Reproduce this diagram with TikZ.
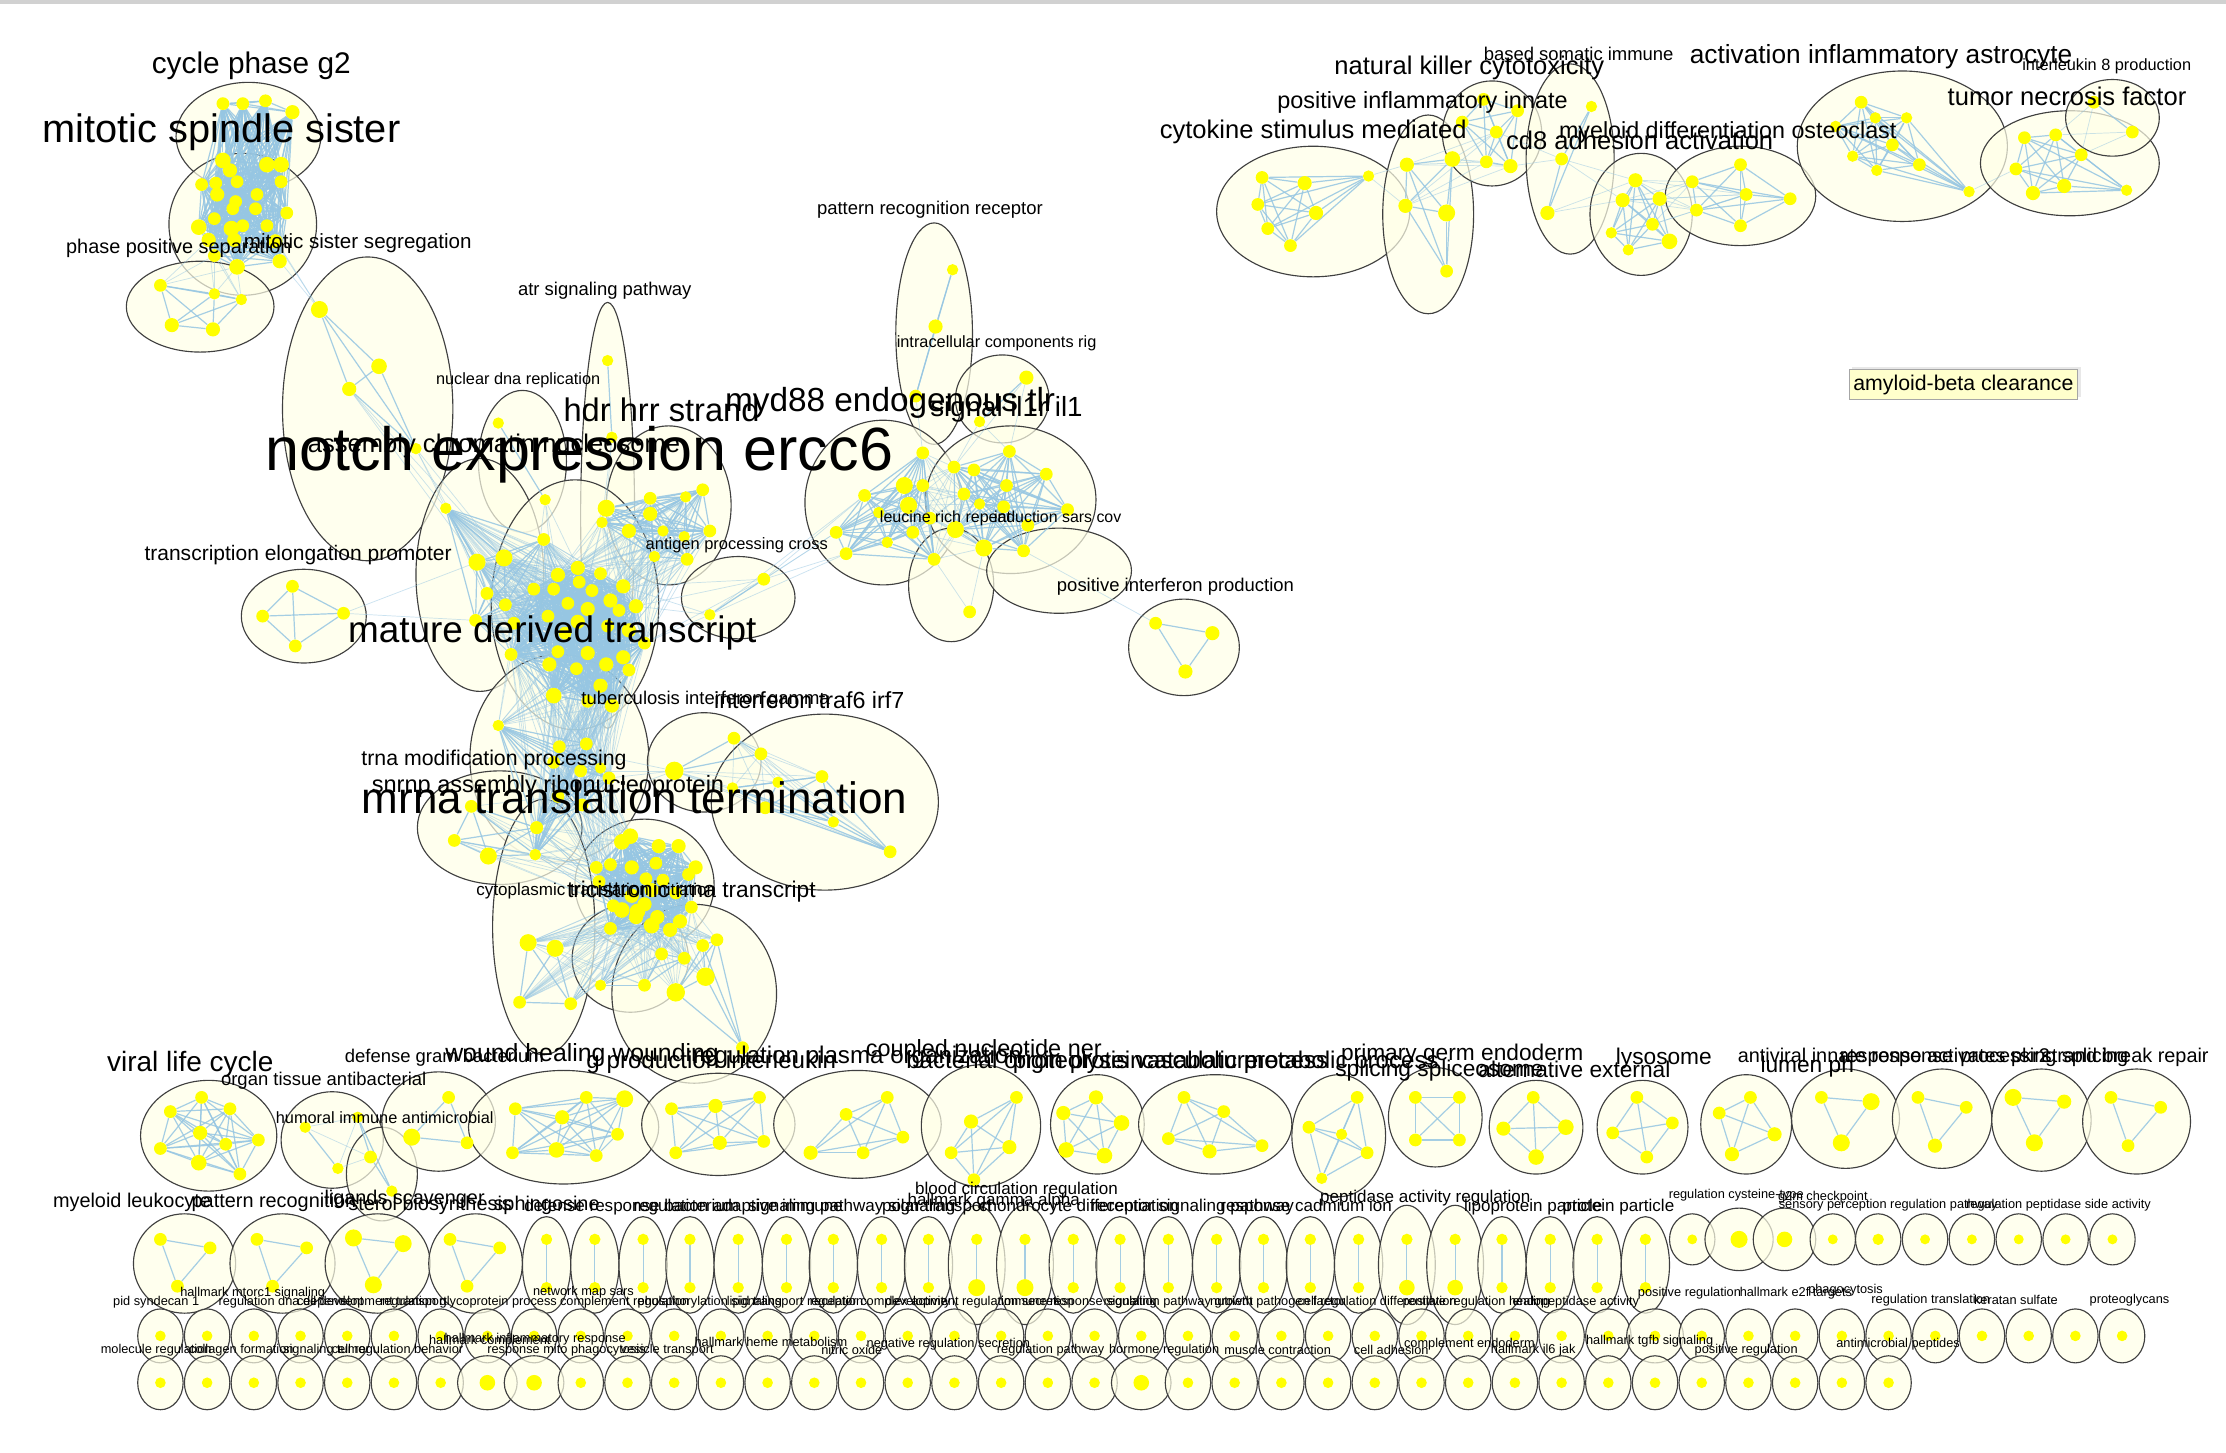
\documentclass[tikz,border=0pt]{standalone}
\usepackage{fontspec}
\setmainfont{Liberation Sans}
\usetikzlibrary{shapes.geometric,shadows}
\definecolor{edgec}{RGB}{150,198,226}
\definecolor{ivoryc}{RGB}{255,255,232}
\definecolor{dotc}{RGB}{255,255,0}
\definecolor{tipc}{RGB}{255,255,204}
\pgfdeclarelayer{paper}\pgfdeclarelayer{bg}\pgfdeclarelayer{edges}\pgfdeclarelayer{fg}
\pgfsetlayers{paper,bg,edges,main,fg}
\tikzset{
  ring/.style={ellipse,draw=black!75,line width=0.8pt,fill=ivoryc,fill opacity=0.7,inner sep=0pt},
  dot/.style={circle,fill=dotc,draw=none,inner sep=0pt},
  edge/.style={draw=edgec,line width=0.85pt,opacity=0.85},
  fedge/.style={draw=edgec,line width=0.5pt,opacity=0.5},
  lab/.style={font=\fontsize{#1}{#1}\selectfont,inner sep=0pt,text=black},
}
\newcommand\Ering[5]{\begin{pgfonlayer}{bg}\node[ring,minimum width=#4*2pt,minimum height=#5*2pt] (#1) at (#2,#3) {};\end{pgfonlayer}}
\newcommand\Dots[2]{\foreach[count=\i] \x/\y/\s in {#2}{\node[dot,minimum size=\s pt] (#1-\i) at (\x,\y) {};}}
\newcommand\Kall[2]{\begin{pgfonlayer}{edges}\foreach \i in {1,...,#2}{\foreach \j in {1,...,#2}{\ifnum\i<\j\relax\draw[edge] (#1-\i) -- (#1-\j);\fi}}\end{pgfonlayer}}
\newcommand\Clu[3]{\Dots{#1}{#3}\Kall{#1}{#2}}
\newcommand\Bip[4]{\begin{pgfonlayer}{edges}\foreach \i in {#2}{\foreach \j in {#4}{\draw[fedge] (#1-\i) -- (#3-\j);}}\end{pgfonlayer}}
\begin{document}
\begin{tikzpicture}[x=1pt,y=-1pt]
\useasboundingbox (0,0) rectangle (1568,1023);
\begin{pgfonlayer}{paper}
\fill[white] (0,0) rectangle (1568,1023);
\fill[black!18] (0,0) rectangle (1568,2.5);
\end{pgfonlayer}
% ---------------- ellipses ----------------
\Ering{e1}{175}{96}{51}{38}
\Ering{e2}{171}{158}{52}{50}
\Ering{e3}{141}{216}{52}{32}
\Ering{e4}{259}{288}{60}{107}
\Ering{e5}{428}{363}{19}{150}
\Ering{e6}{368}{325}{31}{50}
\Ering{e7}{471}{356}{44}{56}
\Ering{e8}{338}{405}{45}{82}
\Ering{e9}{405}{426}{59}{88}
\Ering{e10}{214}{434}{44}{33}
\Ering{e11}{520}{421}{40}{29}
\Ering{e12}{394}{534}{63}{73}
\Ering{e13}{496}{537}{40}{35}
\Ering{e14}{581}{565}{80}{62}
\Ering{e15}{352}{583}{58}{40}
\Ering{e16}{454}{623}{49}{46}
\Ering{e17}{383}{653}{36}{90}
\Ering{e18}{444}{675}{41}{38}
\Ering{e19}{489}{700}{58}{63}
\Ering{e20}{658}{235}{27}{78}
\Ering{e21}{706}{281}{33}{31}
\Ering{e22}{622}{354}{55}{58}
\Ering{e23}{712}{352}{60}{52}
\Ering{e24}{670}{412}{30}{40}
\Ering{e25}{746}{402}{51}{30}
\Ering{e26}{834}{456}{39}{34}
\Ering{f1}{925}{149}{68}{46}
\Ering{f2}{1006}{151}{32}{70}
\Ering{f3}{1051}{94}{35}{37}
\Ering{f4}{1106}{112}{31}{67}
\Ering{f5}{1156}{151}{36}{43}
\Ering{f6}{1226}{138}{53}{35}
\Ering{f7}{1340}{103}{74}{53}
\Ering{f8}{1458}{115}{63}{37}
\Ering{f9}{1488}{83}{33}{27}
\Ering{g1}{147}{800}{48}{39}
\Ering{g2}{234}{803}{36}{34}
\Ering{g3}{269}{827}{25}{33}
\Ering{g4}{309}{790}{40}{35}
\Ering{g5}{397}{794}{67}{40}
\Ering{g6}{506}{792}{54}{36}
\Ering{g7}{604}{792}{59}{38}
\Ering{g8}{691}{793}{42}{43}
\Ering{g9}{773}{792}{33}{35}
\Ering{g10}{856}{792}{54}{35}
\Ering{g11}{943}{800}{33}{43}
\Ering{g12}{1011}{787}{33}{35}
\Ering{g13}{1082}{794}{33}{33}
\Ering{g14}{1157}{794}{32}{33}
\Ering{g15}{1230}{792}{32}{35}
\Ering{g16}{1300}{788}{38}{35}
\Ering{g17}{1368}{788}{35}{35}
\Ering{g18}{1438}{789}{35}{36}
\Ering{g19}{1505}{790}{38}{37}
\Ering{h1}{130}{890}{36}{35}
\Ering{h2}{199}{890}{37}{35}
\Ering{h3}{266}{890}{37}{35}
\Ering{h4}{335}{890}{33}{35}
% ---------------- clusters ----------------
\Clu{A}{29}{157/73/9,171/73/9,187/71/9,206/79/10,157/113/11,162/120/10,188/116/11,198/116/11,142/130/9,152/129/9,167/128/9,198/128/9,153/137/10,181/137/9,166/142/9,164/147/9,180/147/9,202/150/9,151/154/9,140/160/11,163/161/11,171/159/9,188/159/9,147/169/10,165/169/10,194/170/10,151/180/9,167/188/11,197/184/10}
\Clu{A3}{5}{113/201/9,151/207/8,170/211/8,121/229/10,150/232/10}
\Clu{A4}{4}{225/218/12,267/258/11,246/274/10,293/316/8}
\Clu{B1}{2}{428/254/8,431/308/8}
\Clu{B2}{2}{351/298/8,384/352/8}
\Clu{B3}{12}{458/351/9,483/350/8,495/345/9,458/362/10,467/374/8,500/374/9,443/374/10,482/378/8,484/394/9,461/392/8,427/358/12,424/368/8}
\Clu{B4}{7}{314/358/8,336/396/12,355/393/12,343/418/9,356/426/9,383/380/9,335/437/9}
\Clu{B5}{32}{407/400/10,423/404/9,393/405/10,408/410/9,439/413/10,390/415/9,417/416/9,376/415/9,430/423/10,400/425/9,414/429/10,448/427/10,436/430/9,386/434/9,407/438/10,428/441/9,398/446/9,443/444/10,362/439/9,454/453/9,414/460/10,393/459/9,439/463/10,360/461/9,387/468/10,427/468/10,406/471/9,443/472/9,423/483/10,390/490/11,414/494/9,431/497/10}
\Clu{B6}{4}{206/413/9,185/434/9,242/432/9,208/455/9}
\Clu{B7}{2}{538/408/9,500/433/8}
\Clu{B8}{11}{351/511/8,394/526/9,413/524/9,409/543/9,429/548/9,423/541/8,390/537/9,378/583/9,377/602/8,410/567/9,393/561/9}
\Clu{B9}{3}{475/543/13,517/520/9,536/531/9}
\Clu{B10}{6}{579/547/9,548/551/8,587/579/8,627/600/9,539/569/9,516/555/8}
\Clu{B11}{5}{332/568/9,320/592/9,344/603/12,378/583/9,377/602/8}
\Clu{B12}{27}{438/593/11,444/589/11,464/596/10,478/596/10,420/611/9,430/609/9,445/611/10,462/608/9,490/611/10,422/621/9,455/619/9,467/620/9,485/616/9,445/631/10,459/627/10,476/629/9,438/641/11,449/642/11,454/637/10,463/646/10,479/649/10,487/639/9,430/654/9,459/652/11,472/655/10,448/646/10,432/638/9}
\Clu{B13}{4}{372/664/12,391/668/12,366/706/9,402/707/9}
\Clu{B14}{4}{454/694/9,423/694/8,466/672/9,482/675/9}
\Clu{B15}{5}{495/666/9,505/662/9,497/688/13,476/699/13,523/738/9}
\Clu{C1}{3}{671/190/8,659/230/10,645/279/9}
\Clu{C2}{2}{723/266/10,690/297/8}
\Clu{C3}{12}{650/319/9,637/342/12,650/342/9,609/349/9,619/361/8,640/356/12,655/365/9,589/375/9,625/382/8,643/375/9,596/390/9,658/394/9}
\Clu{C4}{13}{672/329/9,686/331/9,711/318/9,737/334/9,679/348/9,709/342/9,690/355/8,707/357/9,752/359/9,673/373/12,724/370/9,693/386/12,721/388/9}
\Clu{C5}{1}{683/431/9}
\Clu{C7}{3}{814/439/9,854/446/10,835/473/10}
\Clu{D1}{7}{889/125/9,919/129/10,886/144/9,927/150/10,893/161/9,909/173/9,964/124/8}
\Clu{D2}{5}{991/116/10,1023/112/11,990/145/10,1019/150/12,1019/191/9}
\Clu{D3}{6}{1045/70/9,1069/78/9,1030/86/9,1054/93/9,1047/114/9,1064/117/10}
\Clu{D4}{3}{1121/75/8,1100/112/9,1090/150/10}
\Clu{D5}{7}{1152/127/10,1143/141/10,1169/140/10,1135/164/8,1164/158/9,1176/170/11,1147/176/8}
\Clu{D6}{6}{1192/128/9,1226/116/9,1230/137/9,1195/148/9,1261/140/9,1226/159/9}
\Clu{D7}{9}{1311/72/9,1321/83/8,1343/83/8,1333/102/9,1305/110/8,1322/120/8,1352/116/9,1387/135/8,1293/89/8}
\Clu{D8}{7}{1426/97/9,1448/95/9,1466/109/9,1420/119/9,1454/131/10,1432/136/10,1498/134/8}
\Clu{D9}{2}{1475/72/9,1502/93/9}
\Clu{G1}{9}{142/773/9,120/783/9,162/781/9,141/798/10,182/803/9,113/809/9,159/806/9,140/819/11,169/827/9}
\Clu{G2}{2}{215/794/8,238/823/8}
\Clu{G3}{3}{252/787/8,261/815/9,276/839/8}
\Clu{G4}{3}{316/773/9,290/801/12,329/805/9}
\Clu{G5}{8}{363/781/9,413/773/9,440/774/12,396/787/10,361/812/9,392/810/11,420/814/9,435/799/9}
\Clu{G6}{6}{473/781/9,504/779/10,535/773/9,476/812/9,507/805/10,538/804/9}
\Clu{G7}{5}{596/785/9,625/773/9,636/801/9,571/812/10,608/812/9}
\Clu{G8}{5}{684/790/10,716/773/9,711/808/10,670/812/9,686/831/9}
\Clu{G9}{5}{772/773/10,749/784/10,790/791/11,751/810/11,778/814/11}
\Clu{G10}{5}{834/773/9,862/783/9,823/802/9,852/811/10,889/807/9}
\Clu{G11}{5}{956/773/9,922/794/9,945/799/8,963/812/9,931/830/8}
\Clu{G12}{4}{997/773/9,1028/773/9,997/803/9,1028/803/9}
\Clu{G13}{4}{1080/773/9,1059/795/10,1103/794/11,1082/815/11}
\Clu{G14}{4}{1153/773/9,1136/798/9,1178/791/9,1160/815/9}
\Clu{G15}{4}{1233/773/9,1211/784/9,1250/799/10,1220/813/10}
\Clu{G16}{3}{1283/773/9,1318/776/12,1297/805/12}
\Clu{G17}{3}{1351/773/9,1385/780/9,1363/807/10}
\Clu{G18}{3}{1418/773/12,1454/776/10,1433/805/12}
\Clu{G19}{3}{1487/773/9,1522/780/9,1499/807/9}
\Clu{H1}{3}{113/873/9,148/879/9,125/906/9}
\Clu{H2}{3}{181/873/9,216/879/9,192/906/9}
\Clu{H3}{3}{249/872/12,284/876/12,263/905/12}
\Clu{H4}{3}{317/873/9,352/879/9,329/906/9}
% ---------------- cross edges ----------------
\Bip{A3}{1,2,3}{A}{24,27,28}
\Bip{A4}{1}{A}{26,29,23}
\Bip{A4}{3,4}{B4}{1,2,3}
\Bip{B4}{1,...,7}{B5}{1,...,32}
\Bip{B3}{1,...,12}{B5}{1,3,5,9,12,15,18,20}
\Bip{B2}{2}{B5}{1,3,6,8}
\Bip{B1}{2}{B3}{11,12}
\Bip{B7}{1,2}{B5}{5,12,20}
\Bip{B7}{1,2}{C3}{4,8,11}
\Bip{B5}{18,...,32}{B8}{1,...,11}
\Bip{B8}{1,...,11}{B12}{1,2,5,6,10,17}
\Bip{B9}{1,2,3}{B10}{1,...,6}
\Bip{B9}{1}{B8}{2,4,5,10}
\Bip{B11}{1,...,5}{B12}{5,10,17}
\Bip{B11}{1,4}{B8}{8,9,11}
\Bip{B12}{15,...,27}{B13}{1,2,3,4}
\Bip{B12}{15,...,27}{B14}{1,2,3,4}
\Bip{B12}{19,...,27}{B15}{1,2,3,4}
\Bip{B13}{1,2}{B14}{1,2}
\Bip{B6}{3}{B4}{2,7}
\Bip{C1}{3}{C3}{1}
\Bip{C2}{1,2}{C4}{1,3}
\Bip{C3}{1,2,3,6,7,10,12}{C4}{1,5,7,10,12}
\Bip{C5}{1}{C3}{12}
\Bip{C5}{1}{C4}{12}
\Bip{C4}{13}{C7}{1}
\Bip{D1}{7}{D2}{1,3}
\Bip{D2}{1,2,3}{D3}{5,6,4}
\Bip{D3}{4,6}{D4}{2}
\Bip{D4}{2,3}{D5}{1,2}
\Bip{D5}{1,2,3,5}{D6}{1,3,4}
\Bip{D7}{8}{D8}{4}
\Bip{D8}{2,3}{D9}{1,2}
\Bip{G3}{1,2}{G2}{1,2}
% ---------------- row 2 ----------------
\foreach[count=\i] \x/\w/\h/\b in {385/17/34/8,419/17/34/8,453/17/34/8,486/17/34/8,520/17/34/8,554/17/34/8,587/17/34/8,621/17/34/8,654/17/34/8,688/20/42/12,722/20/42/12,756/17/34/8,789/17/34/8,823/17/34/8,857/17/34/8,890/17/34/8,923/17/34/8,957/17/34/8,991/20/42/11,1025/20/42/11,1058/17/34/8,1092/17/34/8,1125/17/34/8,1159/17/34/8}{
  \begin{pgfonlayer}{bg}\node[ring,minimum width=2*\w pt,minimum height=2*\h pt] (r2e\i) at (\x,891) {};\end{pgfonlayer}
  \node[dot,minimum size=8pt] (r2a\i) at (\x,873) {};
  \node[dot,minimum size=\b pt] (r2b\i) at (\x,907) {};
  \begin{pgfonlayer}{edges}\draw[edge] (r2a\i) -- (r2b\i);\end{pgfonlayer}
}
\foreach[count=\i] \x/\w/\h/\b in {1192/16/18/7,1225/24/22/12,1257/22/22/11,1291/16/18/7,1323/16/18/8,1356/16/18/7,1389/16/18/7,1422/16/18/7,1455/16/18/7,1488/16/18/7}{
  \begin{pgfonlayer}{bg}\node[ring,minimum width=2*\w pt,minimum height=2*\h pt] (r2s\i) at (\x,873) {};\end{pgfonlayer}
  \node[dot,minimum size=\b pt] (r2d\i) at (\x,873) {};
}
% ---------------- rows 3 and 4 ----------------
\foreach \i in {0,...,42}{
  \pgfmathsetmacro\xx{113+32.9*\i}
  \pgfmathsetmacro\rw{(\i==32) ? 20 : 16}
  \begin{pgfonlayer}{bg}\node[ring,minimum width=2*\rw pt,minimum height=38pt] (r3e\i) at (\xx,941) {};\end{pgfonlayer}
  \node[dot,minimum size=7.5pt] (r3d\i) at (\xx,941) {};
}
\foreach \i in {0,...,37}{
  \pgfmathsetmacro\xx{113+32.9*\i}
  \pgfmathsetmacro\rw{(\i==7 || \i==8 || \i==21) ? 21 : 16}
  \pgfmathsetmacro\ds{(\i==7 || \i==8 || \i==21) ? 11 : 7.5}
  \begin{pgfonlayer}{bg}\node[ring,minimum width=2*\rw pt,minimum height=38pt] (r4e\i) at (\xx,974) {};\end{pgfonlayer}
  \node[dot,minimum size=\ds pt] (r4d\i) at (\xx,974) {};
}
% ---------------- labels ----------------
\begin{pgfonlayer}{fg}
\foreach[count=\i] \x/\y/\s/\t in {
177/46/21/cycle phase g2,
156/93/28/mitotic spindle sister,
126/175/14/phase positive separation,
252/171/14.5/mitotic sister segregation,
426/205/13/atr signaling pathway,
365/268/11.5/nuclear dna replication,
466/289/23/hdr hrr strand,
348/314/18/assembly chromatin nucleosome,
408/320/43/notch expression ercc6,
627/284/23.5/myd88 endogenous tlr,
709/288/19.5/signal il1r il1,
655/148/13/pattern recognition receptor,
702/242/11.5/intracellular components rig,
666/365/11.3/leucine rich repeat,
745/364/11.2/induction sars cov,
828/413/13/positive interferon production,
519/384/11.6/antigen processing cross,
210/391/14.8/transcription elongation promoter,
389/446/26/mature derived transcript,
497/493/13/tuberculosis interferon gamma,
570/493/16.4/interferon traf6 irf7,
348/535/15/trna modification processing,
386/554/16.6/snrnp assembly ribonucleoprotein,
447/562/31/mrna translation termination,
420/628/12/cytoplasmic translation initiation,
487/628/16/tricistronic rrna transcript,
1035/48/18/natural killer cytotoxicity,
1112/38/13/based somatic immune,
1325/40/18.5/activation inflammatory astrocyte,
1484/47/11.5/interleukin 8 production,
1456/68/18/tumor necrosis factor,
1002/72/16.5/positive inflammatory innate,
925/93/18/cytokine stimulus mediated,
1217/93/16.4/myeloid differentiation osteoclast,
1155/99/18/cd8 adhesion activation
}{\node[lab=\s] (T\i) at (\x,\y) {\t};}
\foreach[count=\i] \x/\y/\s/\t in {
134/750/19.7/viral life cycle,
228/761/13/organ tissue antibacterial,
271/787/11.5/humoral immune antimicrobial,
313/745/13/defense gram bacterium,
410/743/17.5/wound healing wounding,
501/748/17/g production interleukin,
604/745/17/regulation plasma organization,
693/740/16.5/coupled nucleotide ner,
722/748/17/bacterial origin protein,
800/748/17/proteolysis vasculature,
870/748/17/catabolic process,
945/748/17/metabolic process,
1030/743/16/primary germ endoderm,
1014/754/16/splicing spliceosome,
1109/753/16/alternative external,
1172/746/16/lysosome,
1273/751/16/lumen ph,
1300/745/14/antiviral innate response,
1370/745/14/response activates pkr2,
1440/745/14/processing splicing,
1497/745/14/strand break repair
}{\node[lab=\s] (U\i) at (\x,\y) {\t};}
\foreach[count=\i] \x/\y/\s/\t in {
93/847/14/myeloid leukocyte,
193/847/14/pattern recognition,
285/845/14/ligands scavenger,
303/849/14/sterol biosynthesis,
385/849/14/sphingosine,
445/850/12/defense response bacterium,
520/850/12/regulation adaptive immune,
600/850/12/signaling pathway signaling,
660/850/12/polar transport,
716/838/12/blood circulation regulation,
700/846/12/hallmark gamma alpha,
760/850/12/chondrocyte differentiation,
840/850/12/receptor signaling pathway,
920/850/12/response cadmium ion,
1004/844/12/peptidase activity regulation,
1080/850/12/lipoprotein particle,
1140/850/12/protein particle,
1223/842/9/regulation cysteine-type,
1284/843/9/g2m checkpoint,
1330/849/9/sensory perception regulation pathway,
1450/849/9/regulation peptidase side activity
}{\node[lab=\s] (V\i) at (\x,\y) {\t};}
\foreach[count=\i] \x/\y/\t in {
110/917/pid syndecan 1,
178/911/hallmark mtorc1 signaling,
205/917/regulation dna dependent,
262/917/cell development transport,
330/917/regulation glycoprotein process,
411/910/network map sars,
440/917/complement regulation,
500/917/phosphorylation signaling,
560/917/lipid transport regulation,
620/917/receptor complex activity,
690/917/development regulation secretion,
760/917/immune response signaling,
830/917/regulation pathway growth,
900/917/nutrient pathogen factor,
970/917/cell regulation differentiation,
1040/917/positive regulation healing,
1110/917/endopeptidase activity,
1190/911/positive regulation,
1265/911/hallmark e2f targets,
1300/909/phagocytosis,
1360/916/regulation translation,
1420/916/keratan sulfate,
1500/916/proteoglycans
}{\node[lab=9] (W\i) at (\x,\y) {\t};}
\foreach[count=\i] \x/\y/\t in {
110/951/molecule regulation,
170/951/collagen formation,
230/951/signaling tumor,
280/951/cell regulation behavior,
345/945/hallmark complement,
377/943/hallmark inflammatory response,
399/951/response mito phagocytosis,
470/951/vesicle transport,
543/945/hallmark heme metabolism,
600/951/nitric oxide,
668/947/negative regulation secretion,
740/951/regulation pathway,
820/951/hormone regulation,
900/951/muscle contraction,
980/951/cell adhesion,
1035/947/complement endoderm,
1080/951/hallmark il6 jak,
1162/945/hallmark tgfb signaling,
1230/951/positive regulation,
1337/947/antimicrobial peptides
}{\node[lab=9] (X\i) at (\x,\y) {\t};}
\node[lab=15,fill=tipc,draw=black!35,line width=0.5pt,inner xsep=3pt,inner ysep=3.5pt,drop shadow={opacity=0.18,shadow xshift=2pt,shadow yshift=2pt}] (amy) at (1383,271) {amyloid-beta clearance};
\end{pgfonlayer}
\end{tikzpicture}
\end{document}
